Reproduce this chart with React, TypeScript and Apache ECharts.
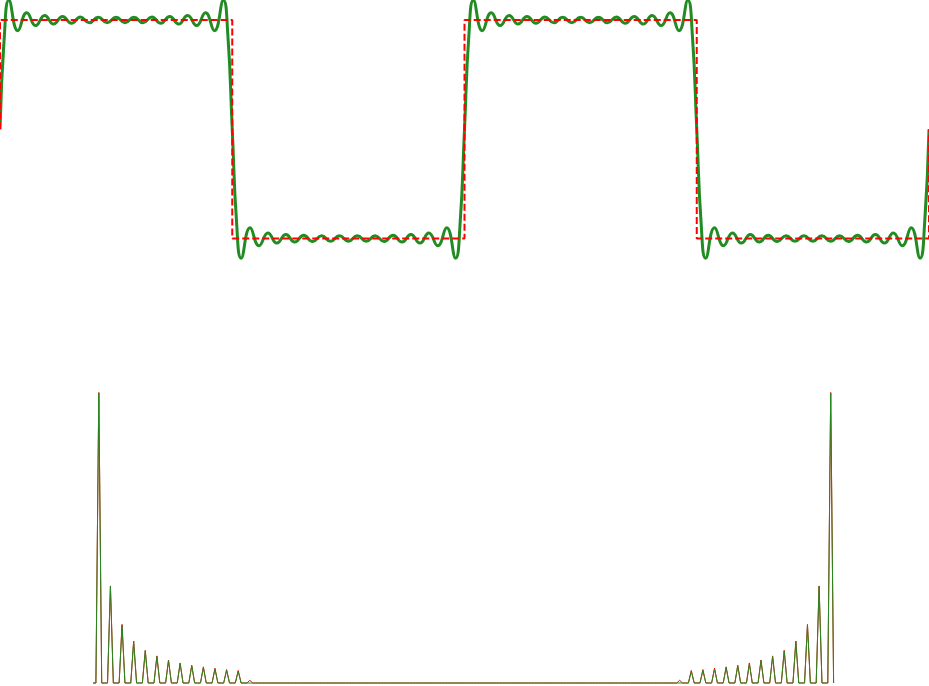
import React, { useEffect, useRef } from "react";
import * as echarts from "echarts";

// ---- Top panel: square wave and its 13-term Fourier partial sum ----
// x is measured in steps: 52 steps per half-period, 208 steps = two periods
const stepsPerHalf = 52;
const halfPeriodSteps = [0, 1, 2, 4, 6, 8, 10, 12, 14, 16, 18, 20, 22, 24, 26, 28, 30, 32, 34, 36, 38, 40, 42, 44, 46, 48, 50, 51];
const halfPeriodPartialSum = [0, 0.873, 1.18, 0.902, 1.067, 0.949, 1.042, 0.963, 1.033, 0.97, 1.028, 0.974, 1.025, 0.975, 1.0245, 0.975, 1.025, 0.974, 1.028, 0.97, 1.033, 0.963, 1.042, 0.949, 1.067, 0.902, 1.18, 0.873];
const halfPeriodSigns = [1, -1, 1, -1];
const partialSumEnd = [208, 0];

const squareX = [0, 0, 52, 52, 104, 104, 156, 156, 208, 208];
const squareY = [0, 1, 1, -1, -1, 1, 1, -1, -1, 0];

// ---- Bottom panel: magnitude spectra (256 bins, mirrored) ----
const fftSize = 256;
const partialSumHarmonics = [1, 3, 5, 7, 9, 11, 13, 15, 17, 19, 21, 23, 25];
const partialSumSpectrum = [1.273, 0.424, 0.255, 0.182, 0.141, 0.116, 0.098, 0.085, 0.075, 0.067, 0.061, 0.055, 0.051];
const squareHarmonics = [1, 3, 5, 7, 9, 11, 13, 15, 17, 19, 21, 23, 25, 27];
const squareSpectrum = [1.275, 0.426, 0.257, 0.184, 0.143, 0.119, 0.101, 0.088, 0.078, 0.071, 0.065, 0.059, 0.055, 0.012];

function buildSpectrum(harm: number[], amp: number[]) {
  const arr: number[][] = [];
  const vals = new Array(fftSize).fill(0);
  harm.forEach((h, i) => {
    vals[2 * h] = amp[i];
    vals[fftSize - 2 * h] = amp[i];
  });
  vals.forEach((v, i) => arr.push([i, v]));
  return arr;
}

function buildPartialSum() {
  const pts: number[][] = [];
  halfPeriodSigns.forEach((s, k) => {
    halfPeriodSteps.forEach((st, i) => {
      pts.push([k * stepsPerHalf + st, s * halfPeriodPartialSum[i]]);
    });
  });
  pts.push(partialSumEnd);
  return pts;
}

const GREEN = "#228b22";
const RED = "#ff0000";

export default function App() {
  const ref = useRef<HTMLDivElement>(null);
  useEffect(() => {
    if (!ref.current) return;
    const chart = echarts.init(ref.current, undefined, { renderer: "svg" });
    const option = {
      animation: false,
      backgroundColor: "#ffffff",
      grid: [
        { left: 0, top: 0, width: 929, height: 258.5 },
        { left: 93, top: 364, width: 740.6, height: 319 },
      ],
      xAxis: [
        { gridIndex: 0, type: "value", min: 0, max: 208, show: false },
        { gridIndex: 1, type: "value", min: 0, max: 255, show: false },
      ],
      yAxis: [
        { gridIndex: 0, type: "value", min: -1.183, max: 1.183, show: false },
        { gridIndex: 1, type: "value", min: 0, max: 1.4, show: false },
      ],
      series: [
        {
          name: "partial sum",
          type: "line",
          xAxisIndex: 0,
          yAxisIndex: 0,
          data: buildPartialSum(),
          smooth: 0.5,
          showSymbol: false,
          clip: false,
          lineStyle: { color: GREEN, width: 3 },
        },
        {
          name: "square wave",
          type: "line",
          xAxisIndex: 0,
          yAxisIndex: 0,
          data: squareX.map((x, i) => [x, squareY[i]]),
          showSymbol: false,
          clip: false,
          lineStyle: { color: RED, width: 2, type: [7, 3] },
        },
        {
          name: "square spectrum",
          type: "line",
          xAxisIndex: 1,
          yAxisIndex: 1,
          data: buildSpectrum(squareHarmonics, squareSpectrum),
          showSymbol: false,
          clip: false,
          lineStyle: { color: RED, width: 1 },
        },
        {
          name: "partial sum spectrum",
          type: "line",
          xAxisIndex: 1,
          yAxisIndex: 1,
          data: buildSpectrum(partialSumHarmonics, partialSumSpectrum),
          showSymbol: false,
          clip: false,
          lineStyle: { color: GREEN, width: 1 },
        },
      ],
    };
    chart.setOption(option as any);
    return () => chart.dispose();
  }, []);
  return (
    <div
      ref={ref}
      style={{ position: "fixed", left: 0, top: 0, width: 929, height: 686, background: "#fff" }}
    />
  );
}
